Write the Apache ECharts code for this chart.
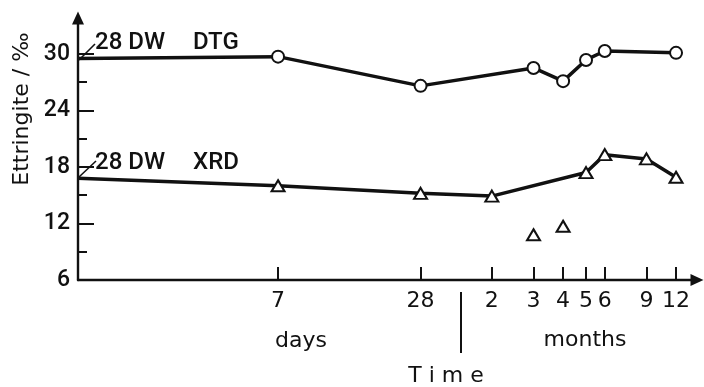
<!DOCTYPE html>
<html><head><meta charset="utf-8">
<script src="https://cdn.jsdelivr.net/npm/echarts@6/dist/echarts.min.js"></script>
<style>html,body{margin:0;padding:0;background:#fff}#c{width:704px;height:387px}</style>
</head><body><div id="c"></div>
<script>
// time in days (month taken as 4 weeks), log time axis
const xTickDays = [7, 28, 56, 84, 112, 140, 168, 252, 336];
const xTickLabels = ['7', '28', '2', '3', '4', '5', '6', '9', '12'];
const yTickValues = [6, 12, 18, 24, 30];
const yMinorTicks = [9, 15, 21, 27];
const dtgDays = [1, 7, 28, 84, 112, 140, 168, 336];
const dtgValues = [29.5, 29.7, 26.6, 28.5, 27.1, 29.35, 30.3, 30.1];
const xrdDays = [1, 7, 28, 56, 140, 168, 252, 336];
const xrdValues = [16.8, 16.0, 15.2, 14.9, 17.4, 19.3, 18.85, 16.9];
const xrdOutlierDays = [84, 112];
const xrdOutlierValues = [10.8, 11.7];

const INK = '#111';
const labelFontX = 'DejaVu Sans';
const labelFontY = 'Roboto';

function lineData(days, vals) {
  return days.map((d, i) => i === 0 ? { value: [d, vals[i]], symbol: 'none' } : [d, vals[i]]);
}

const chart = echarts.init(document.getElementById('c'), null, { renderer: 'canvas' });
chart.setOption({
  animation: false,
  backgroundColor: '#fff',
  grid: { left: 78, right: 7, top: 18, bottom: 107 },
  xAxis: {
    type: 'log', logBase: 10, min: 1, max: 412,
    axisLine: { lineStyle: { color: INK, width: 2.4 }, symbol: ['none', 'triangle'], symbolSize: [12, 13] },
    axisTick: { inside: true, length: 13, lineStyle: { color: INK, width: 2 }, customValues: xTickDays },
    axisLabel: {
      customValues: xTickDays, margin: 10, color: INK, fontFamily: labelFontX, fontSize: 22,
      formatter: v => { const i = xTickDays.findIndex(d => Math.abs(d - v) < 0.01); return i >= 0 ? xTickLabels[i] : ''; }
    },
    splitLine: { show: false }, minorTick: { show: false }
  },
  yAxis: [{
    type: 'value', min: 6, max: 33.8,
    axisLine: { show: true, lineStyle: { color: INK, width: 2.4 }, symbol: ['none', 'triangle'], symbolSize: [12, 13] },
    axisTick: { show: true, inside: true, length: 16, lineStyle: { color: INK, width: 2 }, customValues: yTickValues },
    axisLabel: { customValues: yTickValues, margin: 8, color: INK, fontFamily: labelFontY, fontWeight: 500, fontSize: 23 },
    splitLine: { show: false }
  }, {
    type: 'value', min: 6, max: 33.8, position: 'left',
    axisLine: { show: false },
    axisTick: { show: true, inside: true, length: 9, lineStyle: { color: INK, width: 2 }, customValues: yMinorTicks },
    axisLabel: { show: false }, splitLine: { show: false }
  }],
  series: [{
    name: 'DTG', type: 'line', data: lineData(dtgDays, dtgValues),
    symbol: 'circle', symbolSize: 12, showSymbol: true,
    lineStyle: { color: INK, width: 3.5 },
    itemStyle: { color: '#fff', borderColor: INK, borderWidth: 2 }, z: 3
  }, {
    name: 'XRD', type: 'line', data: lineData(xrdDays, xrdValues),
    symbol: 'triangle', symbolSize: [13, 11], showSymbol: true,
    lineStyle: { color: INK, width: 3.5 },
    itemStyle: { color: '#fff', borderColor: INK, borderWidth: 2 }, z: 3
  }, {
    name: 'XRD single', type: 'scatter',
    data: xrdOutlierDays.map((d, i) => [d, xrdOutlierValues[i]]),
    symbol: 'triangle', symbolSize: [13, 11],
    itemStyle: { color: '#fff', borderColor: INK, borderWidth: 2, opacity: 1 }
  }],
  graphic: [
    { type: 'text', x: 22, y: 109, rotation: Math.PI / 2,
      style: { text: 'Ettringite / ‰', font: '22px "DejaVu Sans"', fill: INK, textAlign: 'center', textVerticalAlign: 'middle' } },
    { type: 'line', shape: { x1: 79, y1: 60, x2: 95, y2: 44 }, style: { stroke: INK, lineWidth: 1.6 } },
    { type: 'line', shape: { x1: 79, y1: 177, x2: 96, y2: 161 }, style: { stroke: INK, lineWidth: 1.6 } },
    { type: 'text', x: 95, y: 43, style: { text: '28 DW', font: '500 24px Roboto', fill: INK, textVerticalAlign: 'middle' } },
    { type: 'text', x: 193, y: 43, style: { text: 'DTG', font: '500 24px Roboto', fill: INK, textVerticalAlign: 'middle' } },
    { type: 'text', x: 95, y: 163, style: { text: '28 DW', font: '500 24px Roboto', fill: INK, textVerticalAlign: 'middle' } },
    { type: 'text', x: 193, y: 163, style: { text: 'XRD', font: '500 24px Roboto', fill: INK, textVerticalAlign: 'middle' } },
    { type: 'line', shape: { x1: 461, y1: 292, x2: 461, y2: 353 }, style: { stroke: INK, lineWidth: 2 } },
    { type: 'text', x: 301, y: 341, style: { text: 'days', font: '22px "DejaVu Sans"', fill: INK, textAlign: 'center', textVerticalAlign: 'middle' } },
    { type: 'text', x: 585, y: 340, style: { text: 'months', font: '22px "DejaVu Sans"', fill: INK, textAlign: 'center', textVerticalAlign: 'middle' } },
    { type: 'text', x: 446, y: 376, style: { text: 'T i m e', font: '22px "DejaVu Sans"', fill: INK, textAlign: 'center', textVerticalAlign: 'middle' } }
  ]
});
</script></body></html>
